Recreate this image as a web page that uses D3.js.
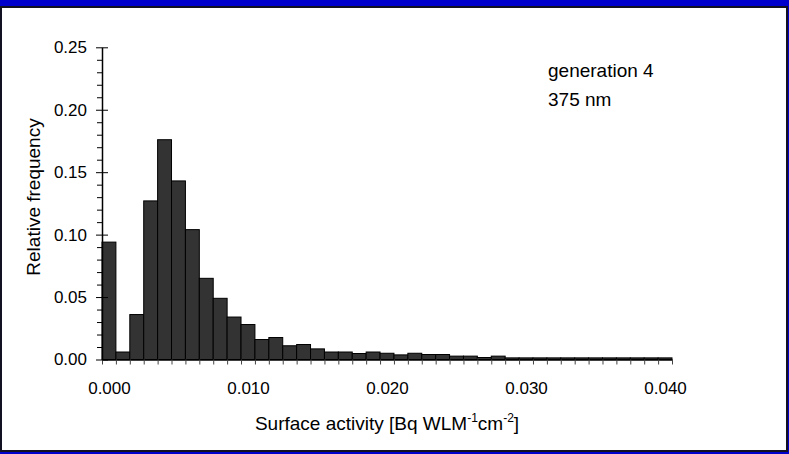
<!DOCTYPE html>
<html><head><meta charset="utf-8">
<script src="https://cdn.jsdelivr.net/npm/d3@7"></script>
<style>html,body{margin:0;padding:0;background:#0000cc;}svg{display:block;}</style>
</head><body>
<script>
// bin centres (Surface activity, Bq WLM^-1 cm^-2)
const binCenters = [0.000,0.001,0.002,0.003,0.004,0.005,0.006,0.007,0.008,0.009,
  0.010,0.011,0.012,0.013,0.014,0.015,0.016,0.017,0.018,0.019,
  0.020,0.021,0.022,0.023,0.024,0.025,0.026,0.027,0.028,0.029,
  0.030,0.031,0.032,0.033,0.034,0.035,0.036,0.037,0.038,0.039,0.040];
const binWidth = 0.001;
// relative frequency
const frequency = [0.094,0.006,0.036,0.127,0.176,0.143,0.104,0.065,0.049,0.034,
  0.028,0.016,0.0176,0.011,0.012,0.0085,0.006,0.006,0.0048,0.006,
  0.005,0.0037,0.005,0.004,0.004,0.0027,0.0027,0.0016,0.0027,0.0013,
  0.0013,0.0013,0.0013,0.0013,0.0013,0.0013,0.0013,0.0013,0.0013,0.0013,0.0013];
const xTickLabels = [0.000,0.010,0.020,0.030,0.040];
const yMajorTicks = [0,0.05,0.10,0.15,0.20,0.25];
const yMinorTicks = [0.01,0.02,0.03,0.04,0.06,0.07,0.08,0.09,0.11,0.12,0.13,0.14,
  0.16,0.17,0.18,0.19,0.21,0.22,0.23,0.24];
const annotation = ["generation 4","375 nm"];

const W = 789, H = 454;
const font = "'Liberation Sans', Arial, sans-serif";
const svg = d3.select("body").append("svg").attr("width", W).attr("height", H);
svg.append("rect").attr("width", W).attr("height", H).attr("fill", "#0000cc");
svg.append("rect").attr("x", 1).attr("y", 7).attr("width", 786).attr("height", 444)
  .attr("fill", "#fff").attr("stroke", "#111122").attr("stroke-width", 2);

const x = d3.scaleLinear()
  .domain([binCenters[0] - binWidth/2, binCenters[binCenters.length-1] + binWidth/2])
  .range([102, 672]);
const y = d3.scaleLinear().domain([0, 0.25]).range([359.5, 47.3]);

// bars
svg.append("g").selectAll("rect").data(binCenters).join("rect")
  .attr("x", d => x(d - binWidth/2))
  .attr("width", d => x(d + binWidth/2) - x(d - binWidth/2))
  .attr("y", (d,i) => y(frequency[i]))
  .attr("height", (d,i) => y(0) - y(frequency[i]))
  .attr("fill", "#333333").attr("stroke", "#000").attr("stroke-width", 1);

// x axis: minor ticks at bin edges
const edges = binCenters.map(c => c - binWidth/2).concat([binCenters[binCenters.length-1] + binWidth/2]);
const xAxisG = svg.append("g").attr("transform", `translate(0,${y(0)})`)
  .call(d3.axisBottom(x).tickValues(edges).tickFormat("").tickSizeInner(5).tickSizeOuter(0));
xAxisG.select(".domain").attr("stroke", "#000").attr("stroke-width", 1.5);
xAxisG.selectAll(".tick line").attr("stroke", "#444");
const xLab = svg.append("g").attr("transform", `translate(0,${y(0)})`)
  .call(d3.axisBottom(x).tickValues(xTickLabels).tickFormat(d3.format(".3f")).tickSize(0).tickPadding(22));
xLab.select(".domain").remove();
xLab.selectAll("text").attr("font-family", font).attr("font-size", 17).attr("fill", "#000");

// y axis
const yMinorG = svg.append("g").attr("transform", "translate(102,0)")
  .call(d3.axisLeft(y).tickValues(yMinorTicks).tickFormat("").tickSizeInner(5).tickSizeOuter(0));
yMinorG.select(".domain").remove();
yMinorG.selectAll(".tick line").attr("stroke", "#000");
const yG = svg.append("g").attr("transform", "translate(102,0)")
  .call(d3.axisLeft(y).tickValues(yMajorTicks).tickFormat(d3.format(".2f")).tickSizeInner(6).tickSizeOuter(0).tickPadding(9));
yG.select(".domain").attr("stroke", "#000").attr("stroke-width", 1.5);
yG.selectAll(".tick line").attr("x1", 6).attr("stroke", "#000");
yG.selectAll("text").attr("font-family", font).attr("font-size", 17).attr("fill", "#000");

// axis titles
const xt = svg.append("text").attr("x", (x.range()[0] + x.range()[1]) / 2).attr("y", 430)
  .attr("text-anchor", "middle").attr("font-family", font).attr("font-size", 19);
xt.append("tspan").text("Surface activity [Bq WLM");
xt.append("tspan").attr("dy", -8).attr("font-size", 12).text("-1");
xt.append("tspan").attr("dy", 8).text("cm");
xt.append("tspan").attr("dy", -8).attr("font-size", 12).text("-2");
xt.append("tspan").attr("dy", 8).text("]");

svg.append("text").attr("transform", `translate(40,197) rotate(-90)`)
  .attr("text-anchor", "middle").attr("font-family", font).attr("font-size", 19)
  .text("Relative frequency");

// annotation
svg.append("g").selectAll("text").data(annotation).join("text")
  .attr("x", 548).attr("y", (d,i) => 77 + i * 29)
  .attr("font-family", font).attr("font-size", 19).text(d => d);
</script>
</body></html>
